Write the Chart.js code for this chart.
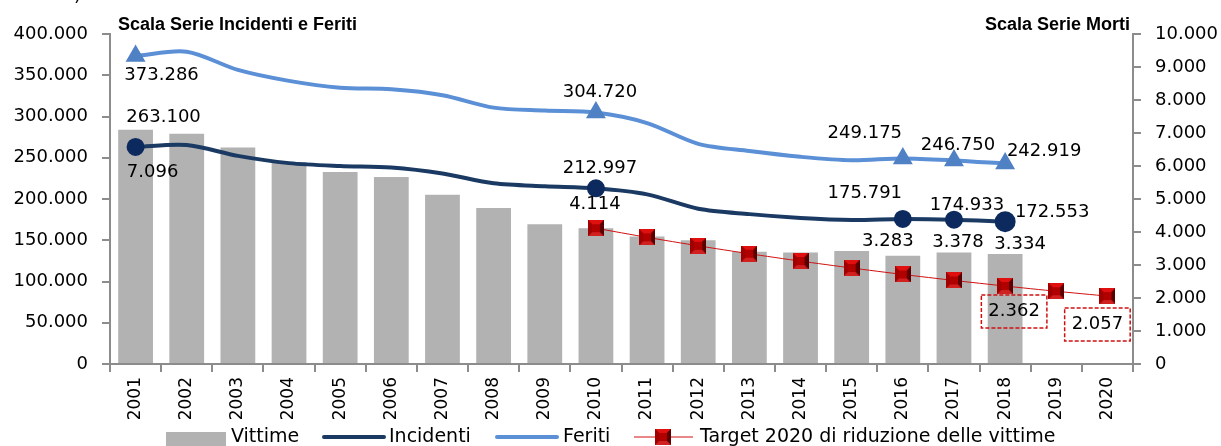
<!DOCTYPE html>
<html>
<head>
<meta charset="utf-8">
<script src="https://cdn.jsdelivr.net/npm/chart.js@4.4.1/dist/chart.umd.min.js"></script>
<style>
  html, body { margin: 0; padding: 0; background: #fff; }
  #wrap { width: 1221px; height: 446px; position: relative; }
</style>
</head>
<body>
<div id="wrap"><canvas id="roadChart" width="1221" height="446"></canvas></div>
<script>
// Data (ISTAT road accidents, Italy)
const years = ["2001","2002","2003","2004","2005","2006","2007","2008","2009","2010",
               "2011","2012","2013","2014","2015","2016","2017","2018","2019","2020"];
const vittime = [7096, 6980, 6563, 6122, 5818, 5669, 5131, 4725, 4237, 4114,
                 3860, 3753, 3401, 3381, 3428, 3283, 3378, 3334, null, null];
const incidenti = [263100, 265402, 252271, 243490, 240011, 238124, 230871, 218963, 215405, 212997,
                   205638, 188228, 181660, 177031, 174539, 175791, 174933, 172553, null, null];
const feriti = [373286, 378492, 356475, 343179, 334858, 332955, 325850, 310745, 307258, 304720,
                292019, 266864, 258093, 251147, 246920, 249175, 246750, 242919, null, null];
const target2020 = [null, null, null, null, null, null, null, null, null, 4114,
                    3838, 3581, 3341, 3117, 2909, 2714, 2532, 2362, 2204, 2057];
const leftTicks = [0, 50000, 100000, 150000, 200000, 250000, 300000, 350000, 400000];
const rightTicks = [0, 1000, 2000, 3000, 4000, 5000, 6000, 7000, 8000, 9000, 10000];

const FONT = '"DejaVu Sans", sans-serif';
const fmt = v => String(v).replace(/\B(?=(\d{3})+(?!\d))/g, ".");

// bevelled red square marker used by the target series
function makeSquare(size) {
    const c = document.createElement("canvas");
    c.width = size; c.height = size;
    const g = c.getContext("2d");
    const s = size, b = Math.round(size * 0.28);
    g.fillStyle = "#7a0000"; g.fillRect(0, 0, s, s);
    g.fillStyle = "#e01010";
    g.beginPath(); g.moveTo(0, 0); g.lineTo(s, 0); g.lineTo(s - b, b); g.lineTo(b, b); g.closePath(); g.fill();
    g.fillStyle = "#a00000";
    g.beginPath(); g.moveTo(0, 0); g.lineTo(b, b); g.lineTo(b, s - b); g.lineTo(0, s); g.closePath(); g.fill();
    g.fillStyle = "#5a0000";
    g.beginPath(); g.moveTo(s, 0); g.lineTo(s, s); g.lineTo(s - b, s - b); g.lineTo(s - b, b); g.closePath(); g.fill();
    g.fillStyle = "#d02020";
    g.beginPath(); g.moveTo(0, s); g.lineTo(b, s - b); g.lineTo(s - b, s - b); g.lineTo(s, s); g.closePath(); g.fill();
    g.fillStyle = "#b00000"; g.fillRect(b, b, s - 2 * b, s - 2 * b);
    return c;
}
const squareImg = makeSquare(16);
const legendSquare = makeSquare(16);

const markerYears = ["2001", "2010", "2016", "2017", "2018"];
const incRadius = years.map(y => y === "2018" ? 8.5 : (markerYears.includes(y) ? 7 : 0));
const ferRadius = years.map(y => markerYears.includes(y) ? 7.5 : 0);

// where each value label goes, relative to the drawn element: [dataset, index, dx, dy, boxed]
const labelSpots = [
    [2, 0, 26, 19], [2, 9, 4, -20], [2, 15, -38, -25], [2, 16, 4, -15], [2, 17, 39, -12],
    [1, 0, 28, -30], [1, 9, 4, -20], [1, 15, -38, -26], [1, 16, 13, -14], [1, 17, 47, -9],
    [0, 0, 17, 42], [0, 9, -1, -24], [0, 15, -15, -14], [0, 16, 4, -10], [0, 17, 15, -10],
    [3, 17, 9, 25, true], [3, 19, -10, 28, true]
];

const extrasPlugin = {
    id: "extras",
    afterDatasetsDraw(chart) {
        const ctx = chart.ctx;
        ctx.save();
        ctx.font = "18px " + FONT;
        ctx.fillStyle = "#000";
        ctx.textAlign = "center";
        ctx.textBaseline = "middle";
        labelSpots.forEach(([ds, i, dx, dy, boxed]) => {
            const el = chart.getDatasetMeta(ds).data[i];
            const value = chart.data.datasets[ds].data[i];
            const x = el.x + dx, y = el.y + dy;
            const text = fmt(value);
            if (boxed) {
                const w = ctx.measureText(text).width + 14;
                ctx.save();
                ctx.strokeStyle = "#d01010";
                ctx.lineWidth = 1.5;
                ctx.setLineDash([4, 2]);
                ctx.strokeRect(x - w / 2, y - 16, w, 33);
                ctx.restore();
            }
            ctx.fillText(text, x, y);
        });
        ctx.restore();
    },
    afterDraw(chart) {
        const ctx = chart.ctx;
        ctx.save();
        // axis titles
        ctx.font = "bold 18px \"Liberation Sans\", Arial, sans-serif";
        ctx.fillStyle = "#000";
        ctx.textBaseline = "middle";
        ctx.textAlign = "left";
        ctx.fillText("Scala Serie Incidenti e Feriti", 118, 25);
        ctx.textAlign = "right";
        ctx.fillText("Scala Serie Morti", 1130, 25);
        ctx.textAlign = "left";
        ctx.font = "18px " + FONT;
        ctx.fillText(")", 74, -4);

        // legend
        const ly = 437;
        ctx.font = "19px " + FONT;
        ctx.textBaseline = "middle";
        ctx.fillStyle = "#b2b2b2";
        ctx.fillRect(166, ly - 5, 60, 14);
        ctx.fillStyle = "#000";
        ctx.fillText("Vittime", 231, ly);

        ctx.lineCap = "round";
        ctx.lineWidth = 4;
        ctx.strokeStyle = "#1b3a63";
        ctx.beginPath(); ctx.moveTo(324, ly); ctx.lineTo(384, ly); ctx.stroke();
        ctx.fillText("Incidenti", 389, ly);

        ctx.strokeStyle = "#5b8fd6";
        ctx.beginPath(); ctx.moveTo(497, ly); ctx.lineTo(557, ly); ctx.stroke();
        ctx.fillText("Feriti", 563, ly);

        ctx.lineCap = "butt";
        ctx.lineWidth = 1;
        ctx.strokeStyle = "#d01010";
        ctx.beginPath(); ctx.moveTo(634, ly); ctx.lineTo(693, ly); ctx.stroke();
        ctx.drawImage(legendSquare, 655, ly - 8);
        ctx.fillText("Target 2020 di riduzione delle vittime", 700, ly);
        ctx.restore();
    }
};

const axisGrey = "#8c8c8c";
const ctx = document.getElementById("roadChart").getContext("2d");
window.roadChartInstance = new Chart(ctx, {
    type: "bar",
    data: {
        labels: years,
        datasets: [
            {
                type: "bar",
                label: "Vittime",
                data: vittime,
                yAxisID: "y1",
                backgroundColor: "#b2b2b2",
                categoryPercentage: 1,
                barPercentage: 0.68,
                order: 4
            },
            {
                type: "line",
                label: "Incidenti",
                data: incidenti,
                yAxisID: "y",
                borderColor: "#1b3a63",
                borderWidth: 4,
                backgroundColor: "#0c2a5e",
                pointBackgroundColor: "#0c2a5e",
                pointBorderColor: "#0c2a5e",
                pointRadius: incRadius,
                tension: 0.3,
                order: 2
            },
            {
                type: "line",
                label: "Feriti",
                data: feriti,
                yAxisID: "y",
                borderColor: "#5b8fd6",
                borderWidth: 4,
                backgroundColor: "#4f81c4",
                pointBackgroundColor: "#4f81c4",
                pointBorderColor: "#4f81c4",
                pointStyle: "triangle",
                pointRadius: ferRadius,
                tension: 0.3,
                order: 1
            },
            {
                type: "line",
                label: "Target 2020 di riduzione delle vittime",
                data: target2020,
                yAxisID: "y1",
                borderColor: "#d01010",
                borderWidth: 1,
                pointStyle: squareImg,
                pointRadius: 8,
                tension: 0.2,
                order: 3
            }
        ]
    },
    options: {
        responsive: false,
        animation: false,
        layout: { padding: { top: 34, left: 0, right: 0, bottom: 0 } },
        plugins: {
            legend: { display: false },
            tooltip: { enabled: false }
        },
        scales: {
            x: {
                grid: { display: true, drawOnChartArea: false, drawTicks: true, tickLength: 8, color: axisGrey, lineWidth: 2, offset: true },
                border: { color: axisGrey, width: 2 },
                ticks: { color: "#000", font: { family: FONT, size: 17 }, minRotation: 90, maxRotation: 90, padding: 5 },
                afterFit(scale) { scale.height = 82; }
            },
            y: {
                position: "left",
                min: 0,
                max: 400000,
                afterBuildTicks(scale) { scale.ticks = leftTicks.map(v => ({ value: v })); },
                grid: { display: true, drawOnChartArea: false, drawTicks: true, tickLength: 8, color: axisGrey, lineWidth: 2 },
                border: { color: axisGrey, width: 2 },
                ticks: { color: "#000", font: { family: FONT, size: 18 }, padding: 14, callback: v => fmt(v) },
                afterFit(scale) { scale.width = 110; }
            },
            y1: {
                position: "right",
                min: 0,
                max: 10000,
                afterBuildTicks(scale) { scale.ticks = rightTicks.map(v => ({ value: v })); },
                grid: { display: true, drawOnChartArea: false, drawTicks: true, tickLength: 8, color: axisGrey, lineWidth: 2 },
                border: { color: axisGrey, width: 2 },
                ticks: { color: "#000", font: { family: FONT, size: 18 }, padding: 14, callback: v => fmt(v) },
                afterFit(scale) { scale.width = 88; }
            }
        }
    },
    plugins: [extrasPlugin]
});
</script>
</body>
</html>
